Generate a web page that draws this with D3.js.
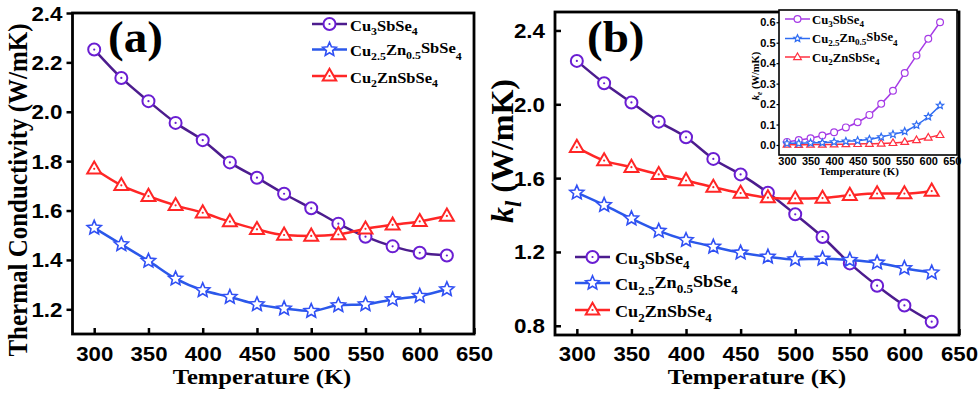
<!DOCTYPE html>
<html><head><meta charset="utf-8">
<script src="https://cdn.jsdelivr.net/npm/d3@7"></script>
<style>html,body{margin:0;padding:0;background:#fff;}svg{display:block;}</style>
</head><body>
<svg id="chart" width="980" height="393"></svg>
<script>
// ---------------- data ----------------
const temps = [300,325,350,375,400,425,450,475,500,525,550,575,600,625];
const seriesNames = ["Cu3SbSe4","Cu2.5Zn0.5SbSe4","Cu2ZnSbSe4"];
// panel (a): total thermal conductivity
const aCu3   = [2.252,2.137,2.043,1.955,1.885,1.795,1.733,1.668,1.609,1.547,1.494,1.455,1.429,1.418];
const aCu25  = [1.530,1.463,1.396,1.324,1.277,1.250,1.220,1.203,1.193,1.216,1.220,1.240,1.254,1.281];
const aCu2Zn = [1.769,1.702,1.658,1.621,1.591,1.555,1.524,1.501,1.497,1.503,1.526,1.542,1.556,1.578];
// panel (b): lattice thermal conductivity
const bCu3   = [2.235,2.114,2.010,1.906,1.821,1.704,1.620,1.521,1.404,1.281,1.138,1.017,0.910,0.822];
const bCu25  = [1.521,1.454,1.381,1.314,1.264,1.228,1.196,1.174,1.160,1.163,1.156,1.142,1.112,1.088];
const bCu2Zn = [1.767,1.695,1.659,1.620,1.587,1.551,1.519,1.494,1.489,1.492,1.507,1.516,1.516,1.530];
// inset: electronic thermal conductivity
const eCu3   = [0.015,0.024,0.033,0.046,0.062,0.086,0.111,0.147,0.201,0.265,0.352,0.437,0.519,0.600];
const eCu25  = [0.008,0.008,0.010,0.011,0.015,0.018,0.021,0.028,0.039,0.052,0.066,0.097,0.138,0.193];
const eCu2Zn = [0.002,0.001,0.002,0.002,0.003,0.004,0.005,0.006,0.007,0.010,0.015,0.024,0.036,0.049];
// tick labels
const xTicks = [300,350,400,450,500,550,600,650];
const aYTicks = [1.2,1.4,1.6,1.8,2.0,2.2,2.4];
const bYTicks = [0.8,1.2,1.6,2.0,2.4];
const eYTicks = [0.0,0.1,0.2,0.3,0.4,0.5,0.6];

// ---------------- styles ----------------
const COL = {
  purpleLine:"#4c1c8e", purpleMark:"#6a1ed2",
  blueLine:"#2b58ea", blueMark:"#3050f4",
  red:"#ff2626",
  ePurple:"#a63be6", eBlue:"#2f6cf2", eRed:"#ff3040"
};
const SERIF = "'Liberation Serif','Times New Roman',serif";
const SANS = "'Liberation Sans',Arial,sans-serif";

const svg = d3.select("#chart");

function txt(parent, x, y, str, o) {
  const t = parent.append("text")
    .attr("transform", `translate(${x},${y}) scale(${o.sx||1},1)` + (o.rot ? ` rotate(${o.rot})` : ""))
    .attr("font-family", o.family || SERIF)
    .attr("font-weight", o.weight || "bold")
    .attr("font-size", o.size)
    .attr("text-anchor", o.anchor || "start")
    .attr("fill", o.fill || "#000");
  if (typeof str === "string") { t.text(str); return t; }
  // parts: [text, sizeFactor, baselineOffset(em of base), italic]
  let prev = 0;
  str.forEach(p => {
    const off = (p[2]||0) * o.size;
    t.append("tspan").text(p[0])
      .attr("font-size", o.size * (p[1]||1))
      .attr("dy", off - prev)
      .attr("font-style", p[3] ? "italic" : null);
    prev = off;
  });
  return t;
}

const fCu3 = [["Cu",1,0],["3",0.72,0.28],["SbSe",1,0],["4",0.72,0.28]];
const fCu25 = [["Cu",1,0],["2.5",0.72,0.28],["Zn",1,-0.1],["0.5",0.72,0.2],["SbSe",1,-0.2],["4",0.72,0.25]];
const fCu2Zn = [["Cu",1,0],["2",0.72,0.28],["ZnSbSe",1,0],["4",0.72,0.28]];
const formulas = [fCu3, fCu25, fCu2Zn];

function starPath(R, r) {
  let s = "";
  for (let i = 0; i < 10; i++) {
    const rad = i % 2 === 0 ? R : r;
    const a = -Math.PI/2 + i*Math.PI/5;
    s += (i===0?"M":"L") + (rad*Math.cos(a)).toFixed(2) + "," + (rad*Math.sin(a)).toFixed(2);
  }
  return s + "Z";
}
function triPath(R) {
  let s = "";
  for (let i = 0; i < 3; i++) {
    const a = -Math.PI/2 + i*2*Math.PI/3;
    s += (i===0?"M":"L") + (R*Math.cos(a)).toFixed(2) + "," + (R*Math.sin(a)+R*0.08).toFixed(2);
  }
  return s + "Z";
}
function marker(g, type, x, y, sz, color, sw, dot) {
  const m = g.append("g").attr("transform", `translate(${x},${y})`);
  if (type === "circle") {
    m.append("circle").attr("r", sz).attr("fill","#fff").attr("stroke",color).attr("stroke-width",sw);
  } else if (type === "star") {
    m.append("path").attr("d", starPath(sz*1.2, sz*0.55)).attr("fill","#fff").attr("stroke",color).attr("stroke-width",sw).attr("stroke-linejoin","miter");
  } else {
    m.append("path").attr("d", triPath(sz*1.3)).attr("fill","#fff").attr("stroke",color).attr("stroke-width",sw).attr("stroke-linejoin","miter");
  }
  if (dot) m.append("circle").attr("r", 1.1).attr("fill", color);
}

const types = ["circle","star","tri"];

function drawSeries(g, x, y, vals, lineCol, markCol, type, lw, msz, msw, dot) {
  const pts = temps.map((t,i)=>[x(t), y(vals[i])]);
  g.append("path").attr("d", d3.line().curve(d3.curveMonotoneX)(pts))
    .attr("fill","none").attr("stroke",lineCol).attr("stroke-width",lw);
  pts.forEach(p => marker(g, type, p[0], p[1], msz, markCol, msw, dot));
}

function drawPanel(cfg) {
  const g = svg.append("g");
  const x = d3.scaleLinear().domain([280,650]).range([cfg.L, cfg.R]);
  const y = d3.scaleLinear().domain(cfg.yDom).range([cfg.B, cfg.T]);
  // x axis (inward ticks)
  const xa = g.append("g").attr("transform", `translate(0,${cfg.B})`)
    .call(d3.axisBottom(x).tickValues(xTicks).tickSize(-6).tickFormat(d3.format("d")));
  xa.select(".domain").remove();
  xa.selectAll("line").attr("stroke","#000").attr("stroke-width",2.5);
  xa.selectAll("text").attr("y", cfg.xLabY).attr("dy",0)
    .attr("font-family", SANS).attr("font-weight","bold").attr("font-size",19.5)
    .attr("fill","#000").attr("transform","scale(1.14,1)");
  // y axis
  const ya = g.append("g").attr("transform", `translate(${cfg.L},0)`)
    .call(d3.axisLeft(y).tickValues(cfg.yTicks).tickSize(cfg.yTickIn ? -6 : 6).tickFormat(d3.format(".1f")));
  ya.select(".domain").remove();
  ya.selectAll("line").attr("stroke","#000").attr("stroke-width",2.5);
  ya.selectAll("text").attr("x", -cfg.yLabGap/1.12).attr("dy",0).attr("y",7)
    .attr("font-family", SANS).attr("font-weight","bold").attr("font-size",20)
    .attr("fill","#000").attr("transform","scale(1.12,1)");
  // series
  const sets = cfg.data;
  drawSeries(g, x, y, sets[0], COL.purpleLine, COL.purpleMark, "circle", 2.5, 6, 2, true);
  drawSeries(g, x, y, sets[2], COL.red, COL.red, "tri", 2.5, 6.2, 2, true);
  drawSeries(g, x, y, sets[1], COL.blueLine, COL.blueMark, "star", 2.5, 6.2, 1.6, false);
  // frame
  g.append("rect").attr("x",cfg.L).attr("y",cfg.T).attr("width",cfg.R-cfg.L).attr("height",cfg.B-cfg.T)
    .attr("fill","none").attr("stroke","#000").attr("stroke-width",2.8);
  // panel letter
  txt(g, cfg.letterX, 52, cfg.letter, {size:44, sx:1.07});
  // x title
  txt(g, cfg.titleX, 384, "Temperature (K)", {size:22, sx:1.12, anchor:"middle"});
  // legend
  const lg = cfg.legend;
  lg.rows.forEach((ry, i) => {
    const lc = [COL.purpleLine, COL.blueLine, COL.red][i];
    const mc = [COL.purpleMark, COL.blueMark, COL.red][i];
    g.append("line").attr("x1",lg.x1).attr("x2",lg.x2).attr("y1",ry).attr("y2",ry)
      .attr("stroke",lc).attr("stroke-width",2.5);
    marker(g, types[i], (lg.x1+lg.x2)/2, ry, 6, mc, i===1?1.6:2, i!==1);
    txt(g, lg.tx, ry + lg.dy, formulas[i], {size:lg.size, sx:1.1});
  });
  return {g, x, y};
}

// panel (a)
const pa = drawPanel({
  L:72.5, R:474, T:13, B:334, yDom:[1.1,2.4], yTicks:aYTicks, yTickIn:false, yLabGap:10,
  xLabY:27.5, data:[aCu3,aCu25,aCu2Zn], letter:"(a)", letterX:108, titleX:262,
  legend:{x1:312, x2:347, tx:350, rows:[24,49.5,76], dy:6.5, size:15}
});
txt(pa.g, 27, 190, "Thermal Conductivity (W/mK)", {size:25, sx:1.12, rot:-90, anchor:"middle"});

// panel (b)
const pb = drawPanel({
  L:555, R:959, T:12, B:335, yDom:[0.75,2.5], yTicks:bYTicks, yTickIn:true, yLabGap:10,
  xLabY:26.5, data:[bCu3,bCu25,bCu2Zn], letter:"(b)", letterX:587, titleX:757,
  legend:{x1:575, x2:610, tx:615, rows:[257,283,310], dy:7, size:16.5}
});
txt(pb.g, 513, 151, [["k",1,0,true],["l",0.7,0.25,true],[" (W/mK)",1,0]], {size:32, rot:-90, anchor:"middle"});

// inset
(function(){
  const L=779, R=957, T=10, B=155;
  const g = svg.append("g");
  g.append("rect").attr("x",L).attr("y",T).attr("width",R-L).attr("height",B-T).attr("fill","#fff");
  const x = d3.scaleLinear().domain([283,661]).range([L,R]);
  const y = d3.scaleLinear().domain([-0.049,0.66]).range([B,T]);
  const xa = g.append("g").attr("transform",`translate(0,${B})`)
    .call(d3.axisBottom(x).tickValues(xTicks).tickSize(0).tickFormat(d3.format("d")));
  xa.select(".domain").remove();
  xa.selectAll("text").attr("y",10).attr("dy",0).attr("font-family",SANS).attr("font-weight","bold")
    .attr("font-size",10).attr("fill","#000").attr("transform","scale(1.1,1)");
  const ya = g.append("g").attr("transform",`translate(${L},0)`)
    .call(d3.axisLeft(y).tickValues(eYTicks).tickSize(2.5).tickFormat(d3.format(".1f")));
  ya.select(".domain").remove();
  ya.selectAll("line").attr("stroke","#000").attr("stroke-width",1.2);
  ya.selectAll("text").attr("x",-3.5/1.1).attr("y",3.6).attr("dy",0).attr("font-family",SANS).attr("font-weight","bold")
    .attr("font-size",10).attr("fill","#000").attr("transform","scale(1.1,1)");
  const cols = [COL.ePurple, COL.eBlue, COL.eRed];
  const sets = [eCu3, eCu25, eCu2Zn];
  [0,2,1].forEach(i => drawSeries(g, x, y, sets[i], cols[i], cols[i], types[i], 1.5, i===1?3.2:3.4, 1.2, false));
  g.append("rect").attr("x",L).attr("y",T).attr("width",R-L).attr("height",B-T)
    .attr("fill","none").attr("stroke","#000").attr("stroke-width",1.6);
  [19,38.5,57].forEach((ry,i)=>{
    g.append("line").attr("x1",785).attr("x2",810).attr("y1",ry).attr("y2",ry).attr("stroke",cols[i]).attr("stroke-width",1.5);
    marker(g, types[i], 797.5, ry, i===1?3.2:3.4, cols[i], 1.2, false);
    txt(g, 812, ry+4.5, formulas[i], {size:11.5, sx:1.1});
  });
  txt(g, (L+R)/2 - 9, 175, "Temperature (K)", {size:11, anchor:"middle"});
  txt(g, 759, 76, [["k",1,0,true],["e",0.7,0.25,true],[" (W/mK)",1,0]], {size:10.5, rot:-90, anchor:"middle"});
})();
</script>
</body></html>
